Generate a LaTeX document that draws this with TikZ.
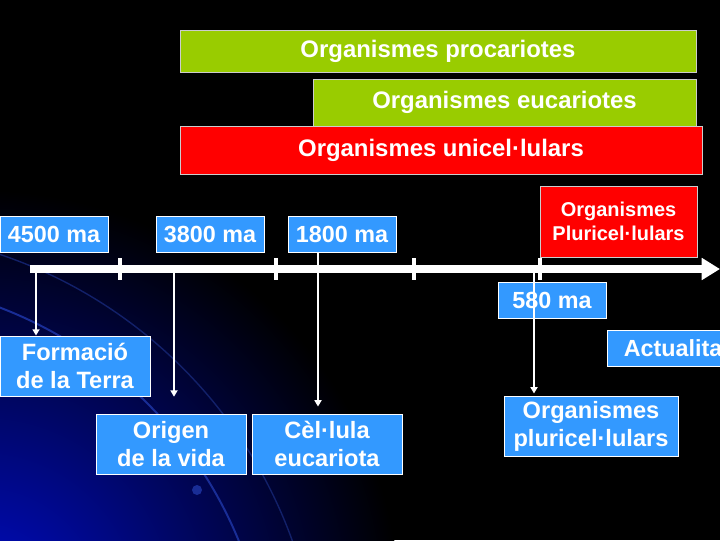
\documentclass[tikz,border=0pt]{standalone}
\usepackage{fontspec}
\setmainfont{Liberation Sans}
\usetikzlibrary{arrows.meta}
\definecolor{limeg}{RGB}{153,204,0}
\definecolor{redbar}{RGB}{255,0,0}
\definecolor{skyb}{RGB}{51,153,255}
\definecolor{deepb}{RGB}{0,12,200}
\definecolor{arcb}{RGB}{25,45,150}

\begin{document}
\begin{tikzpicture}[x=0.025cm,y=-0.025cm,
  every node/.style={font=\bfseries\fontsize{17}{20}\selectfont,text=white,inner sep=0pt,align=center},
  bar/.style={draw=white!80!black,line width=0.5pt},
  tag/.style={draw=white,fill=skyb,line width=0.6pt,minimum width=27mm,minimum height=9mm,font=\bfseries\fontsize{16.6}{19}\selectfont},
  ev/.style={draw=white,fill=skyb,line width=0.6pt,minimum width=37.5mm,minimum height=15mm,font=\bfseries\fontsize{16.8}{20}\selectfont},
  conn/.style={white,line width=1.1pt,-{Triangle[width=5pt,length=4.5pt]}}]
  \clip (0,0) rectangle (720,540);
  % background
  \fill[black] (0,0) rectangle (720,540);
  \shade[inner color=deepb,outer color=black] (-20,610) circle (420);
  \draw[arcb,line width=1.4pt] (-150,700) circle (420);
  \draw[arcb!70!black,line width=1pt] (-150,700) circle (470);
  \fill[arcb] (197,490) circle (5);

  % bars on top
  \node[bar,fill=limeg,minimum width=129mm,minimum height=10.5mm] (proc) at (438,51) {Organismes procariotes};
  \node[bar,fill=limeg,minimum width=95.75mm,minimum height=11.75mm] (euc) at (504.5,102.5) {Organismes eucariotes};
  \node[bar,fill=redbar,minimum width=130.5mm,minimum height=12mm] (unic) at (441,150) {Organismes unicel·lulars};
  \node[bar,fill=redbar,minimum width=39.25mm,minimum height=17.75mm,font=\bfseries\fontsize{14.2}{17}\selectfont] (pluri) at (618.5,221.5) {Organismes\\Pluricel·lulars};

  % timeline
  \coordinate (tl0) at (30,269);
  \coordinate (tl1) at (720,269);
  \draw[white,line width=5pt,-{Triangle[width=15pt,length=13pt]}] (tl0) -- (tl1);
  \foreach \tx in {120,276,414,540}
    \draw[white,line width=2.8pt] (\tx,258) -- (\tx,280);

  % dates
  \node[tag] (t4500) at (54,234) {4500 ma};
  \node[tag] (t3800) at (210,234) {3800 ma};
  \node[tag] (t1800) at (342,234) {1800 ma};
  \node[tag] (t580) at (552,300) {580 ma};

  % events
  \node[ev] (terra) at (75,366) {Formació\\de la Terra};
  \node[ev] (vida) at (171,444) {Origen\\de la vida};
  \node[ev] (cel) at (327,444) {Cèl·lula\\eucariota};
  \node[ev,minimum width=43.5mm] (plur) at (591,426) {Organismes\\pluricel·lulars};
  \node[tag,minimum width=35mm] (actual) at (677,348.5) {Actualitat};

  % connectors
  \coordinate (m4500) at (36,273);
  \coordinate (m3800) at (174,273);
  \coordinate (m1800) at (318,252);
  \coordinate (m580) at (534,273);
  \draw[conn] (m4500) -- (m4500 |- terra.north);
  \draw[conn,shorten >=12pt] (m3800) -- (m3800 |- vida.north);
  \draw[conn,shorten >=5pt] (m1800) -- (m1800 |- cel.north);
  \draw[conn,shorten >=1.5pt] (m580) -- (m580 |- plur.north);
\end{tikzpicture}
\end{document}
